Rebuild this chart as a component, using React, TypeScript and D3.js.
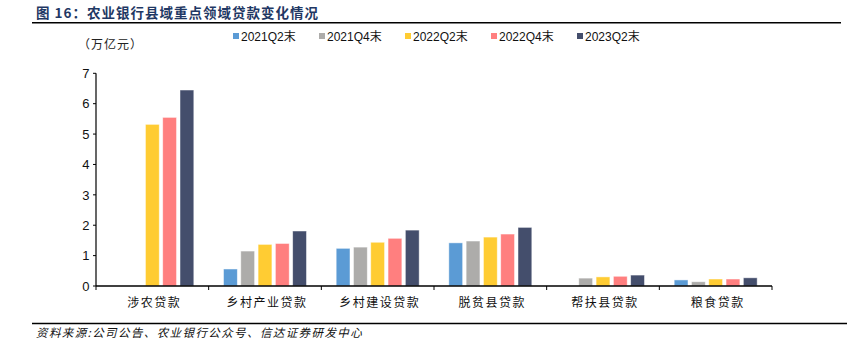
import React from "react";
import * as d3 from "d3";

const categories = ["涉农贷款", "乡村产业贷款", "乡村建设贷款", "脱贫县贷款", "帮扶县贷款", "粮食贷款"];
const seriesNames = ["2021Q2末", "2021Q4末", "2022Q2末", "2022Q4末", "2023Q2末"];
const seriesColors = ["#5B9BD5", "#ADACAA", "#FFCC33", "#FF7F7F", "#444E6C"];
const s2021Q2: (number | null)[] = [null, 0.56, 1.24, 1.42, null, 0.2];
const s2021Q4: (number | null)[] = [null, 1.15, 1.28, 1.48, 0.26, 0.14];
const s2022Q2: (number | null)[] = [5.32, 1.37, 1.44, 1.61, 0.3, 0.23];
const s2022Q4: (number | null)[] = [5.55, 1.4, 1.57, 1.71, 0.32, 0.23];
const s2023Q2: (number | null)[] = [6.45, 1.81, 1.84, 1.93, 0.36, 0.27];
const seriesValues = [s2021Q2, s2021Q4, s2022Q2, s2022Q4, s2023Q2];
const yTicks = [0, 1, 2, 3, 4, 5, 6, 7];

const W = 867;
const H = 356;
const CJK = '"Noto Sans CJK SC", sans-serif';
const LATIN = '"Liberation Sans", Arial, "Noto Sans CJK SC", sans-serif';

export default function App() {
  const x = d3.scaleBand<string>().domain(categories).range([96, 772]).padding(0);
  const y = d3.scaleLinear().domain([0, 7]).range([286, 73.3]);
  const groupW = 83;
  const inner = d3
    .scaleBand<string>()
    .domain(seriesNames)
    .range([-groupW / 2, groupW / 2])
    .paddingInner(0.2)
    .paddingOuter(0);

  const boundaries = [...categories.map((c) => x(c) as number), 772];

  return (
    <svg
      width={W}
      height={H}
      style={{ position: "absolute", left: 0, top: 0, background: "#fff" }}
    >
      {/* title */}
      <text x={36} y={18} fontFamily={CJK} fontWeight={700} fontSize={13.5} fill="#1F3864" letterSpacing={1}>
        图 16：农业银行县域重点领域贷款变化情况
      </text>
      <line x1={32} x2={841} y1={22.7} y2={22.7} stroke="#000" strokeWidth={1.6} />

      {/* unit */}
      <text x={78} y={49} fontFamily={CJK} fontSize={12} fill="#222" letterSpacing={1}>
        （万亿元）
      </text>

      {/* legend */}
      {seriesNames.map((s, i) => {
        const lx = 233 + i * 86;
        return (
          <g key={s}>
            <rect x={lx} y={33} width={6} height={6} fill={seriesColors[i]} />
            <text x={lx + 8} y={40.5} fontFamily={LATIN} fontSize={12} fill="#111">
              {s}
            </text>
          </g>
        );
      })}

      {/* bars */}
      {seriesValues.map((vals, si) =>
        vals.map((v, ci) => {
          if (v === null) return null;
          const cx = (x(categories[ci]) as number) + x.bandwidth() / 2;
          const bx = cx + (inner(seriesNames[si]) as number);
          return (
            <rect
              key={`${si}-${ci}`}
              x={bx}
              y={y(v)}
              width={inner.bandwidth()}
              height={y(0) - y(v)}
              fill={seriesColors[si]}
              stroke="#fff"
              strokeOpacity={0.6}
              strokeWidth={0.8}
            />
          );
        })
      )}

      {/* y axis */}
      <line x1={96} x2={96} y1={y(7)} y2={y(0)} stroke="#000" strokeWidth={1.2} />
      {yTicks.map((t) => (
        <g key={t}>
          <line x1={93} x2={96} y1={y(t)} y2={y(t)} stroke="#000" strokeWidth={1} />
          <text
            x={89.5}
            y={y(t)}
            dy="0.36em"
            textAnchor="end"
            fontFamily={LATIN}
            fontSize={13}
            fill="#111"
          >
            {t}
          </text>
        </g>
      ))}

      {/* x axis */}
      <line x1={96} x2={772} y1={y(0)} y2={y(0)} stroke="#000" strokeWidth={1.5} />
      {boundaries.map((b, i) => (
        <line key={i} x1={b} x2={b} y1={y(0)} y2={y(0) + 4} stroke="#000" strokeWidth={1} />
      ))}
      {categories.map((c) => (
        <text
          key={c}
          x={(x(c) as number) + x.bandwidth() / 2 + 2}
          y={307}
          textAnchor="middle"
          fontFamily={CJK}
          fontSize={12}
          fill="#111"
          letterSpacing={1.5}
        >
          {c}
        </text>
      ))}

      {/* footer */}
      <line x1={32} x2={847} y1={323.5} y2={323.5} stroke="#000" strokeWidth={1.4} />
      <text
        x={36}
        y={337}
        fontFamily={CJK}
        fontSize={11.5}
        fontStyle="italic"
        fill="#111"
        letterSpacing={1.4}
      >
        资料来源:公司公告、农业银行公众号、信达证券研发中心
      </text>
    </svg>
  );
}
